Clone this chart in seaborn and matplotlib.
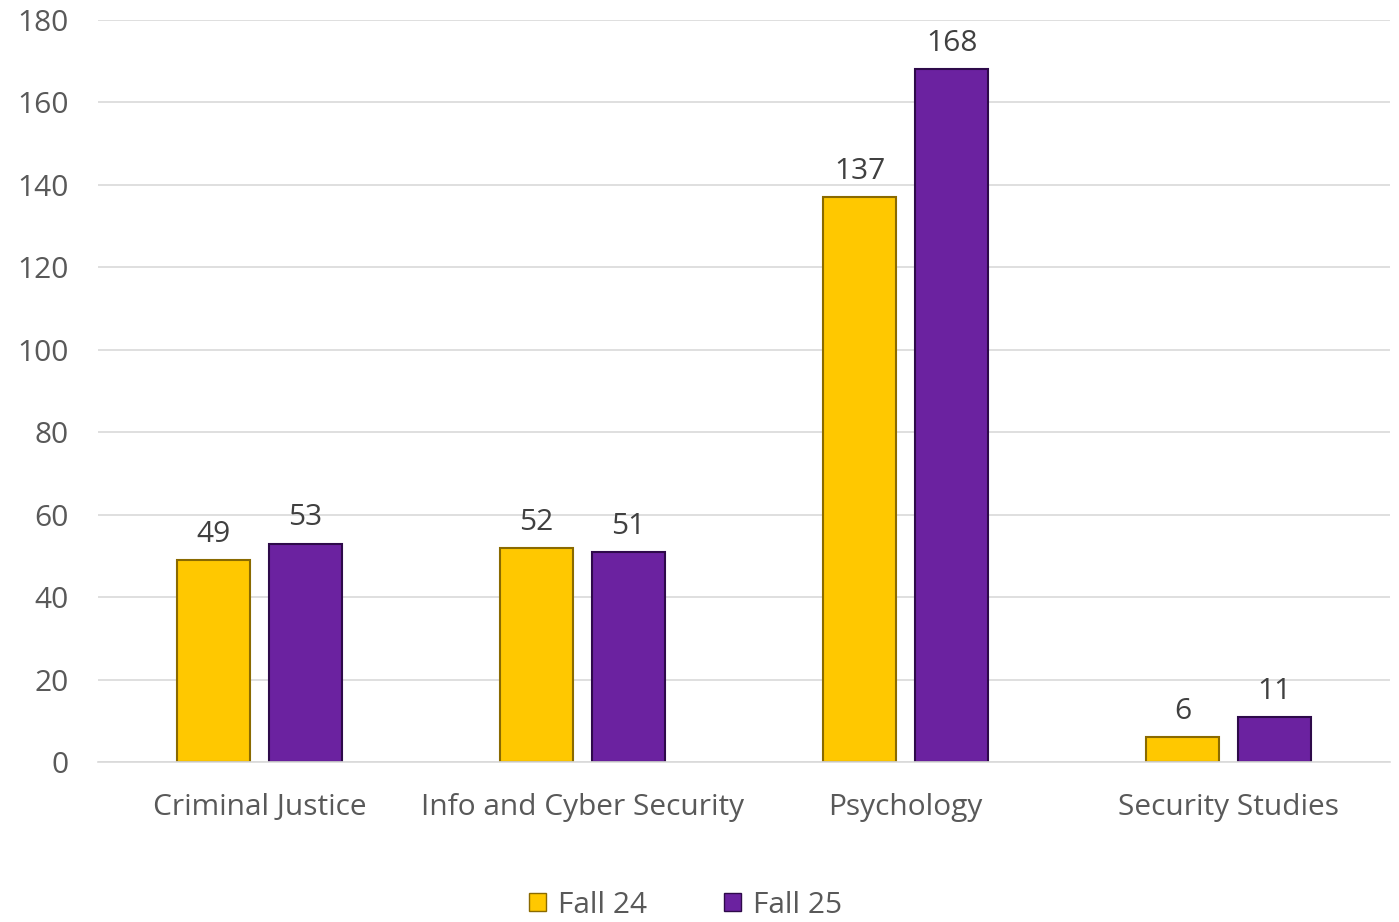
import matplotlib
matplotlib.use("Agg")
import matplotlib.pyplot as plt
import seaborn as sns
import pandas as pd
from matplotlib.patches import Patch

categories = ["Criminal Justice", "Info and Cyber Security", "Psychology", "Security Studies"]
series_names = ["Fall 24", "Fall 25"]
fall24 = [49, 52, 137, 6]
fall25 = [53, 51, 168, 11]
yticks = [0, 20, 40, 60, 80, 100, 120, 140, 160, 180]

colors = {"Fall 24": "#FFC800", "Fall 25": "#6B22A0"}
edges = {"Fall 24": "#8A6A00", "Fall 25": "#2E0A4A"}

df = pd.DataFrame({
    "Program": categories * 2,
    "Term": [series_names[0]] * 4 + [series_names[1]] * 4,
    "Count": fall24 + fall25,
})

sns.set_theme(style="white")
plt.rcParams['font.family'] = ['Open Sans', 'DejaVu Sans']

fig = plt.figure(figsize=(13.99, 9.22), dpi=100)
ax = fig.add_axes([0.070, 0.1735, 0.9236, 0.8048])

sns.barplot(data=df, x="Program", y="Count", hue="Term", order=categories,
            hue_order=series_names, palette=colors, width=0.57, gap=0.207,
            ax=ax, legend=False, saturation=1)

for container, name in zip(ax.containers, series_names):
    for p in container:
        p.set_edgecolor(edges[name])
        p.set_linewidth(1.5)
    ax.bar_label(container, fmt="%d", padding=8, fontsize=21.5, color="#404040")

ax.set_ylim(0, 180)
ax.set_xlim(-0.5, 3.5)
ax.set_yticks(yticks)
ax.yaxis.grid(True, color="#D9D9D9", linewidth=1.2)
ax.set_axisbelow(True)
for s in ["left", "right", "top"]:
    ax.spines[s].set_visible(False)
ax.spines["bottom"].set_color("#D9D9D9")
ax.spines["bottom"].set_linewidth(1.2)
ax.tick_params(axis="both", length=0, labelsize=21.5, colors="#595959")
ax.tick_params(axis="y", pad=21)
ax.tick_params(axis="x", pad=22)
ax.set_xlabel("")
ax.set_ylabel("")

handles = [Patch(facecolor=colors[n], edgecolor=edges[n], label=n) for n in series_names]
fig.legend(handles=handles, loc="center", bbox_to_anchor=(0.49, 0.018), ncol=2,
           frameon=False, fontsize=21.5, handlelength=0.55, handleheight=0.55,
           handletextpad=0.4, columnspacing=2.6, labelcolor="#595959")

fig.savefig("out.png", dpi=100)
